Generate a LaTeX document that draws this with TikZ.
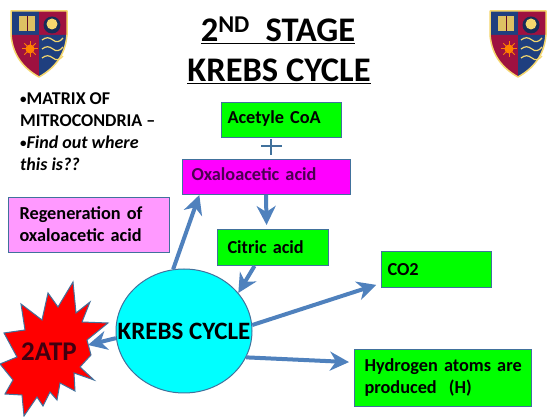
\documentclass[tikz,border=0pt]{standalone}
\usepackage{fontspec}
\setmainfont{Carlito}
\usetikzlibrary{arrows.meta,shapes.geometric}
\definecolor{arrowblue}{HTML}{4F81BD}
\definecolor{boxline}{HTML}{41719C}
\definecolor{shieldblue}{HTML}{1F3F7F}
\definecolor{shieldred}{HTML}{9E1140}
\definecolor{shieldgold}{HTML}{F5D76E}
\definecolor{purecyan}{HTML}{00FFFF}
\definecolor{puregreen}{HTML}{00FF00}
\definecolor{puremagenta}{HTML}{FF00FF}
\definecolor{purered}{HTML}{FF0000}
\definecolor{palepink}{HTML}{FF99FF}
\definecolor{darkpurple}{HTML}{4B0050}
\definecolor{darkmaroon}{HTML}{400010}
\tikzset{
  x=1pt,y=-1pt,
  box/.style={draw=boxline,line width=1pt,anchor=north west,inner ysep=0pt,inner xsep=0pt,align=left,font=\bfseries\fontsize{18.3}{22}\selectfont},
  flow/.style={draw=arrowblue,line width=4pt,-{Stealth[length=19pt,width=19pt,inset=6pt]}},
  titletext/.style={font=\bfseries\fontsize{34.5}{34.5}\selectfont,anchor=base,inner sep=0pt},
  notes/.style={font=\bfseries\fontsize{18}{22.3}\selectfont,anchor=north west,align=left,inner sep=0pt}
}
\newcommand{\nb}{{\fontsize{13}{13}\selectfont\raisebox{1pt}{•}}}
\newcommand{\schoolshield}[2]{%
  \begin{scope}[shift={(#1,#2)}]
    \fill[shieldblue] (0,0) rectangle (28,24);
    \fill[shieldred] (28,0) rectangle (56,24);
    \fill[shieldred] (0,24) -- (28,24) -- (28,66) .. controls (14,58) and (2,46) .. (0,24) -- cycle;
    \fill[shieldblue] (28,24) -- (56,24) .. controls (54,46) and (42,58) .. (28,66) -- cycle;
    \draw[shieldgold,line width=1.5pt,line join=round] (0,0) -- (56,0) -- (56,24) .. controls (54,46) and (42,58) .. (28,66) .. controls (14,58) and (2,46) .. (0,24) -- cycle;
    \fill[shieldgold!90!black] (8,5) rectangle (24,20);
    \draw[shieldred!60!black,line width=.5pt] (16,5) -- (16,20);
    \fill[shieldblue!70!black] (41,14) circle (8.5);
    \fill[shieldgold] (41,13) circle (5.5);
    \fill[orange] (19,38) circle (4.5);
    \foreach \a in {0,45,...,315}{\draw[orange,line width=1pt] (19,38) -- ++(\a:8);}
    \foreach \w in {29,38,47}{
      \draw[shieldgold,line width=1.2pt] (31,\w) .. controls (35,\w-3) and (38,\w-3) .. (42,\w) .. controls (45,\w+3) and (49,\w+2) .. (52,\w-2);
    }
  \end{scope}}
\begin{document}
\begin{tikzpicture}
\useasboundingbox (0,0) rectangle (550,417);
\fill[white] (0,0) rectangle (550,417);
\schoolshield{11}{11}
\schoolshield{490}{11}

\node[titletext] (title1) at (278,42) {\underline{2\textsuperscript{ND}\ \ STAGE}};
\node[titletext] (title2) at (279,82) {\underline{KREBS CYCLE}};

\node[notes] (notes) at (20,92) {\nb MATRIX OF\\MITROCONDRIA –\\\nb\textit{Find out where}\\\textit{this is??}};

\node[box,fill=puregreen,minimum width=120pt,minimum height=35pt,text width=114pt,inner xsep=3pt] (acetyl) at (221,102) {\raisebox{5pt}{\hspace*{3pt}Acetyle CoA}};
\node[box,fill=puremagenta,minimum width=168pt,minimum height=35pt,text width=160pt,inner xsep=4pt] (oxalo) at (182,159) {\raisebox{5pt}{\hspace*{5pt}\textcolor{darkpurple}{Oxaloacetic acid}}};
\node[box,fill=puregreen,minimum width=111pt,minimum height=36pt,text width=105pt,inner xsep=3pt] (citric) at (217,229) {\raisebox{-1.5pt}{\hspace*{7pt}Citric acid}};
\node[box,fill=puregreen,minimum width=110pt,minimum height=36pt,text width=104pt,inner xsep=3pt] (co) at (381,251) {\raisebox{-1pt}{\hspace*{3pt}CO2}};
\node[box,fill=puregreen,minimum width=177pt,minimum height=57pt,text width=167pt,inner xsep=5pt] (hyd) at (354,349) {\raisebox{1pt}{\hspace*{5pt}Hydrogen atoms are}\\\raisebox{1pt}{\hspace*{5pt}produced\ \ (H)}};
\node[box,fill=palepink,minimum width=161pt,minimum height=55pt,text width=151pt,inner xsep=5pt] (regen) at (8,197) {\raisebox{1pt}{\hspace*{6pt}Regeneration of}\\\raisebox{1pt}{\hspace*{6pt}oxaloacetic acid}};

\draw[boxline,line width=1.4pt] (261,146) -- (282,146) (271,139) -- (271,155);

\path[draw=boxline,line width=1pt,fill=purered,line join=miter]
 (73,282) -- (76,313) -- (90,302) -- (82,322) -- (108,323) -- (87,340) -- (91,355) -- (80,367) -- (94,380) -- (74,373) -- (75,391) -- (60,383) -- (57,400) -- (50,392) -- (43,406) -- (37,397) -- (24,416) -- (22,395) -- (5,394) -- (13,380) -- (0,364) -- (17,357) -- (4,333) -- (25,330) -- (21,304) -- (42,320) -- (48,293) -- (58,307) -- cycle;
\node[inner sep=0pt,font=\bfseries\fontsize{27}{27}\selectfont,text=darkmaroon] (atp) at (49,352) {2ATP};

\node[draw=boxline,fill=purecyan,line width=1pt,ellipse,minimum width=136pt,minimum height=124pt,inner sep=0pt,font=\bfseries\fontsize{25}{25}\selectfont] (krebs) at (184,331) {\makebox[0pt][c]{\smash{\raisebox{-9pt}{KREBS CYCLE}}}};

\coordinate (atptip) at (88,345);

\draw[flow] (krebs.100) -- (oxalo.195.8);
\draw[flow,shorten >=4pt] (oxalo.south -| 266,0) -- (citric.109.9);
\draw[flow] (citric.225.8) -- (krebs.35.5);
\draw[flow,shorten >=5pt] (krebs.5) -- (co.194.3);
\draw[flow,shorten >=5pt] (krebs.337) -- (hyd.170.7);
\draw[flow] (krebs.186) -- (atptip);
\end{tikzpicture}
\end{document}
